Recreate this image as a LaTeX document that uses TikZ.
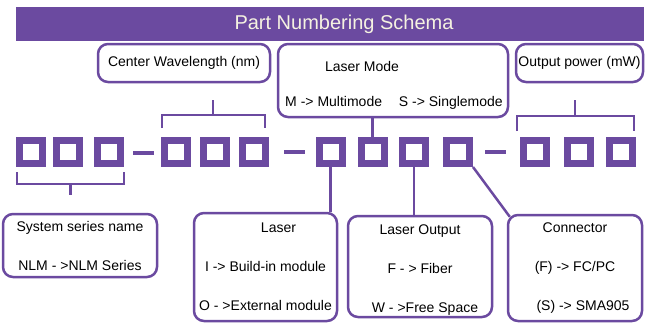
\documentclass[tikz,border=0pt]{standalone}
\usepackage{fontspec}
\setmainfont{Liberation Sans}
\definecolor{nlmpurple}{RGB}{107,74,160}
\definecolor{titlecream}{RGB}{245,242,225}
\begin{document}
\begin{tikzpicture}[x=1pt,y=-1pt,
    digit/.style={draw=nlmpurple,line width=7pt,fill=white,minimum size=23pt,inner sep=0pt},
    dashmark/.style={fill=nlmpurple,minimum width=21pt,minimum height=4pt,inner sep=0pt},
    field/.style={draw=nlmpurple,line width=2.5pt,rounded corners=10pt,fill=white,inner sep=0pt,align=center,font=\fontsize{14}{39}\selectfont},
    caption/.style={inner sep=0pt,align=center,font=\fontsize{14}{39}\selectfont},
    brk/.style={draw=nlmpurple,line width=2.5pt},
    link/.style={draw=nlmpurple,line width=2.5pt}]
\useasboundingbox (0,0) rectangle (652,324);
% title bar
\node[fill=nlmpurple,minimum width=628pt,minimum height=34pt,inner sep=0pt,text=titlecream,font=\fontsize{20}{24}\selectfont] (title) at (330,24) {\hspace*{28pt}Part Numbering Schema};
% upper fields
\node[field,minimum width=172pt,minimum height=38pt] (wave) at (184,63) {Center Wavelength (nm)};
\node[field,minimum width=230pt,minimum height=73pt] (mode) at (393,80.5) {};
\node[caption] (modetitle) at (362,66) {Laser Mode};
\node[caption] (modekeys) at (394,103) {M -> Multimode\hspace{1.2em}S -> Singlemode};
\node[field,minimum width=127pt,minimum height=38pt] (power) at (579.5,63) {Output power (mW)};
% the part number
\foreach \n/\x in {1/31,2/68,3/109,4/176,5/215,6/254,7/330.5,8/372.5,9/414,10/458,11/534.5,12/578.5,13/620.5}
    \node[digit] (s\n) at (\x,152) {};
\node[dashmark] (d1) at (143,153) {};
\node[dashmark] (d2) at (294,152) {};
\node[dashmark] (d3) at (495.5,152) {};
% lower fields
\node[field,minimum width=154pt,minimum height=63pt] (series) at (80,245.5) {System series name\\NLM - >NLM Series};
\node[field,minimum width=143pt,minimum height=108pt] (laser) at (265.5,267) {\hspace*{26pt}Laser\\I -> Build-in module\\O - >External module};
\node[field,minimum width=144pt,minimum height=101pt] (lout) at (420,266.5) {};
\node[caption] (louttext) at (420,270) {Laser Output\\F - > Fiber\hspace*{10pt}\\\hspace*{10pt}W - >Free Space};
\node[field,minimum width=134pt,minimum height=106pt] (conn) at (575,268) {Connector\\(F) -> FC/PC\\\hspace*{16pt}(S) -> SMA905};
% brackets
\draw[brk] (17,172) |- (124,184) -- (124,172);
\draw[brk] (70.5,184) -- (70.5,195);
\draw[brk] (162,128) |- (265,115) -- (265,128);
\draw[brk] (213,115) -- (213,100);
\draw[brk] (517,131) |- (634,116) -- (634,131);
\draw[brk] (575,116) -- (575,100);
% connectors
\draw[link] (s8.north) -- (s8.north |- mode.south);
\draw[link] (s7.south) -- (s7.south |- laser.north);
\draw[link] (s9.south) -- (s9.south |- lout.north);
\draw[link] (s10.south east) -- ([xshift=3pt,yshift=-3pt]conn.north west);
\end{tikzpicture}
\end{document}
